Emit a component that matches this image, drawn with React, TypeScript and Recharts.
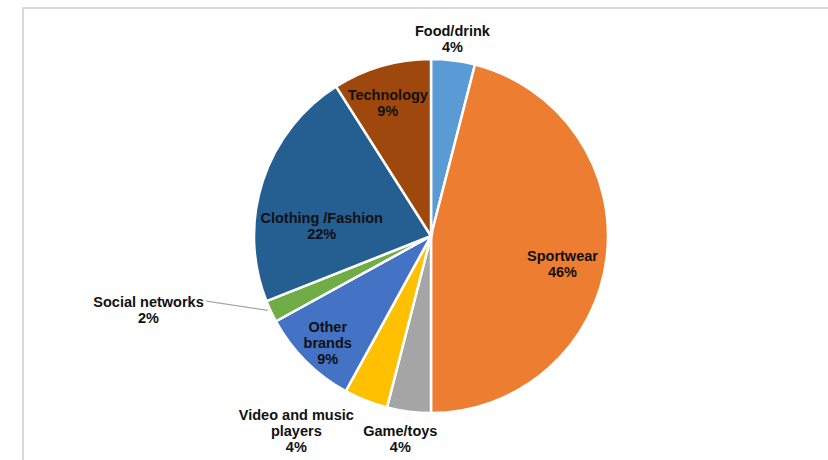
import { PieChart, Pie, Cell } from 'recharts'

const categories = [
  'Food/drink',
  'Sportwear',
  'Game/toys',
  'Video and music players',
  'Other brands',
  'Social networks',
  'Clothing /Fashion',
  'Technology',
]
const shares = [4, 46, 4, 4, 9, 2, 22, 9]
const labelLines = [
  ['Food/drink'],
  ['Sportwear'],
  ['Game/toys'],
  ['Video and music', 'players'],
  ['Other', 'brands'],
  ['Social networks'],
  ['Clothing /Fashion'],
  ['Technology'],
]

const COLORS = ['#5B9BD5', '#ED7D31', '#A5A5A5', '#FFC000', '#4472C4', '#70AD47', '#255E91', '#9E480E']

// label placement: radius as a fraction of outerRadius, plus a small angle nudge (deg)
const LABEL_POS = [
  { r: 1.12, da: 1 },
  { r: 0.76, da: -5 },
  { r: 1.16, da: -1.4 },
  { r: 1.34, da: -13 },
  { r: 0.84, da: 1 },
  { r: 1.65, da: -10.5, leader: true },
  { r: 0.62, da: 13 },
  { r: 0.79, da: 1.8 },
]

const data = categories.map((name, i) => ({ name, value: shares[i] }))

const RADIAN = Math.PI / 180
const LINE_H = 16

const renderLabel = ({ cx, cy, midAngle, outerRadius, index }: any) => {
  const pos = LABEL_POS[index]
  const a = (midAngle + pos.da) * RADIAN
  const x = cx + outerRadius * pos.r * Math.cos(-a)
  const y = cy + outerRadius * pos.r * Math.sin(-a)
  const lines = [...labelLines[index], `${shares[index]}%`]
  const top = y - ((lines.length - 1) * LINE_H) / 2
  let leader = null
  if (pos.leader) {
    const sx = cx + outerRadius * Math.cos(-midAngle * RADIAN)
    const sy = cy + outerRadius * Math.sin(-midAngle * RADIAN)
    leader = <line x1={sx - 3} y1={sy - 1} x2={x + 58} y2={top - 1} stroke="#A6A6A6" strokeWidth={1.2} />
  }
  return (
    <g key={`lbl-${index}`}>
      {leader}
      <text
        x={x}
        y={top}
        fill="#111"
        textAnchor="middle"
        dominantBaseline="central"
        fontSize={14.5}
        fontWeight="bold"
        fontFamily="'Liberation Sans', Arial, sans-serif"
      >
        {lines.map((t, i) => (
          <tspan key={i} x={x} y={top + i * LINE_H}>
            {t}
          </tspan>
        ))}
      </text>
    </g>
  )
}

export default function App() {
  return (
    <div style={{ position: 'absolute', left: 0, top: 0, width: 828, height: 460, background: '#fff', overflow: 'hidden' }}>
      <div
        style={{
          position: 'absolute',
          left: 22,
          top: 7,
          width: 840,
          height: 480,
          borderTop: '2px solid #d9d9d9',
          borderLeft: '2px solid #d9d9d9',
        }}
      />
      <div style={{ position: 'absolute', left: 0, top: 0 }}>
        <PieChart width={828} height={460}>
          <Pie
            data={data}
            dataKey="value"
            nameKey="name"
            cx={426}
            cy={231}
            outerRadius={177}
            startAngle={90}
            endAngle={-270}
            stroke="#fff"
            strokeWidth={2.5}
            labelLine={false}
            label={renderLabel}
            isAnimationActive={false}
          >
            {data.map((entry, index) => (
              <Cell key={`cell-${index}`} fill={COLORS[index % COLORS.length]} />
            ))}
          </Pie>
        </PieChart>
      </div>
    </div>
  )
}
